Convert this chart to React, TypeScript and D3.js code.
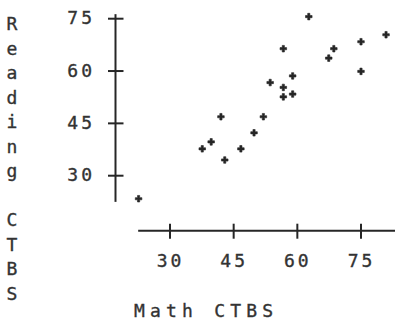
import React from 'react';
import * as d3 from 'd3';

// Math CTBS vs Reading CTBS scores
const mathScores = [22.6, 37.6, 39.7, 42.0, 42.9, 46.7, 49.8, 52.0, 53.6, 56.7, 56.7, 56.7, 58.9, 58.9, 62.7, 67.4, 68.6, 75.0, 75.0, 80.9];
const readingScores = [23.4, 37.7, 39.7, 46.9, 34.5, 37.7, 42.3, 46.9, 56.7, 66.4, 55.3, 52.6, 58.6, 53.4, 75.6, 63.7, 66.4, 68.4, 59.9, 70.4];
const xTicks = [30, 45, 60, 75];
const yTicks = [30, 45, 60, 75];
const xTitle = 'Math CTBS';
const yTitle = 'Reading CTBS';

const W = 395;
const H = 322;
const font = '"DejaVu Sans Mono", "Liberation Mono", monospace';
const ink = '#262626';

// shared text look: wide mono glyphs, a bit heavier than normal
const textStyle = {
  fontFamily: font,
  fontSize: 18,
  fill: '#333',
  stroke: '#333',
  strokeWidth: 0.35,
};

const App = () => {
  // scales fitted to the reference's pixel positions
  const x = d3.scaleLinear().domain([30, 75]).range([170, 361]);
  const y = d3.scaleLinear().domain([30, 75]).range([175.7, 18.7]);

  const xAxisY = 230.7;
  const yAxisX = 115.5;
  const cross = d3.symbol(d3.symbolCross, 24)();

  const points = mathScores.map((m, i) => ({ m, r: readingScores[i] }));

  return (
    <svg width={W} height={H} style={{ position: 'absolute', left: 0, top: 0, background: '#fff' }}>
      {/* y axis */}
      <line x1={yAxisX} x2={yAxisX} y1={y(76.3)} y2={y(22.5)} stroke={ink} strokeWidth={2} />
      {yTicks.map(t => (
        <g key={'y' + t}>
          <line x1={yAxisX - 7.5} x2={yAxisX + 8} y1={y(t)} y2={y(t)} stroke={ink} strokeWidth={2} />
          <text x={95} y={y(t) + 5.5} textAnchor="end" letterSpacing={3} style={textStyle}>{t}</text>
        </g>
      ))}

      {/* x axis */}
      <line x1={x(22.5)} x2={W} y1={xAxisY} y2={xAxisY} stroke={ink} strokeWidth={2} />
      {xTicks.map(t => (
        <g key={'x' + t}>
          <line x1={x(t)} x2={x(t)} y1={xAxisY - 7} y2={xAxisY + 8} stroke={ink} strokeWidth={2} />
          <text x={x(t) + 0.5} y={267} textAnchor="middle" letterSpacing={3} style={textStyle}>{t}</text>
        </g>
      ))}

      {/* axis titles */}
      <text x={134} y={317} letterSpacing={5.2} style={textStyle}>{xTitle}</text>
      {yTitle.split('').map((ch, i) => (
        <text key={'t' + i} x={12} y={30 + i * 24.5} textAnchor="middle" style={textStyle}>{ch}</text>
      ))}

      {/* points */}
      {points.map((p, i) => (
        <path key={'p' + i} d={cross || ''} transform={`translate(${x(p.m)},${y(p.r)})`}
          fill={ink} stroke={ink} strokeWidth={0.6} />
      ))}
    </svg>
  );
};

export default App;
